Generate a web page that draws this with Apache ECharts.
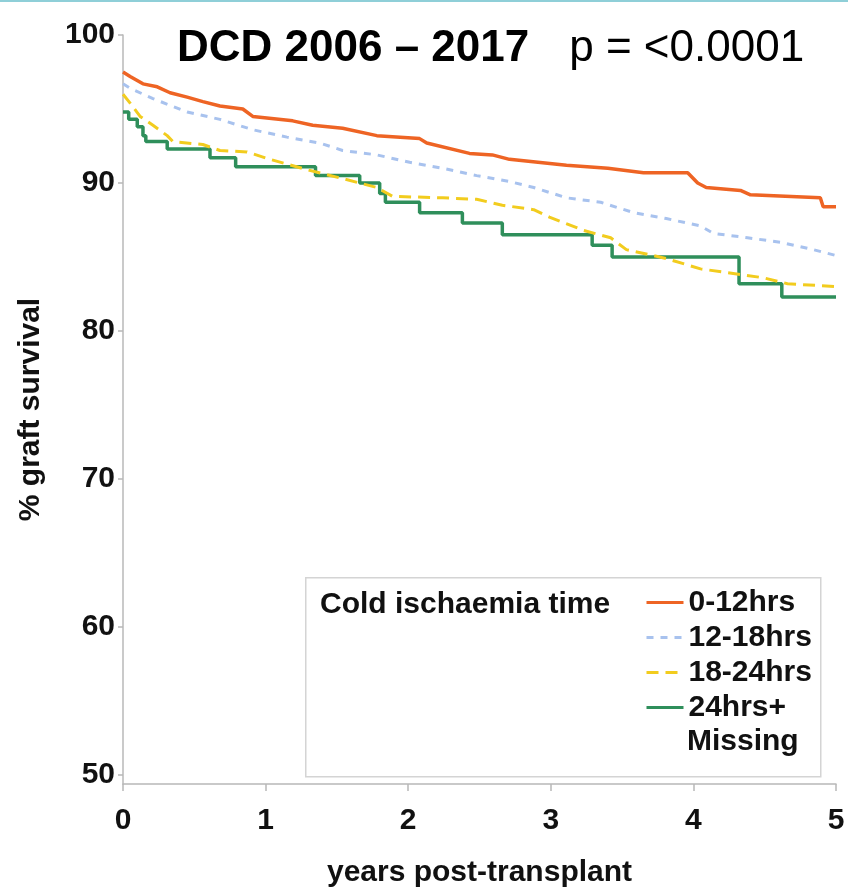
<!DOCTYPE html>
<html><head><meta charset="utf-8">
<script src="https://cdn.jsdelivr.net/npm/echarts@6/dist/echarts.min.js"></script>
<style>html,body{margin:0;padding:0;background:#fff}#c{width:848px;height:890px}</style>
</head><body><div id="c"></div>
<script>
const FONT = "'Liberation Sans', Arial, Helvetica, sans-serif";

// Series names (legend order)
const seriesNames = ['0-12hrs', '12-18hrs', '18-24hrs', '24hrs+'];
const legendExtraLine = 'Missing';
const legendTitle = 'Cold ischaemia time';

// Axis ticks
const xTicks = [0, 1, 2, 3, 4, 5];
const yTicks = [50, 60, 70, 80, 90, 100];

// 0-12hrs
const years0_12 = [0, 0.05, 0.14, 0.24, 0.33, 0.45, 0.56, 0.68, 0.84, 0.91, 1.19, 1.33, 1.54, 1.78, 2.08, 2.13, 2.43, 2.59, 2.71, 3.11, 3.40, 3.65, 3.96, 4.03, 4.09, 4.33, 4.40, 4.89, 4.91, 5.0];
const surv0_12  = [97.5, 97.2, 96.7, 96.5, 96.1, 95.8, 95.5, 95.2, 95.0, 94.5, 94.2, 93.9, 93.7, 93.2, 93.0, 92.7, 92.0, 91.9, 91.6, 91.2, 91.0, 90.7, 90.7, 90.0, 89.7, 89.5, 89.2, 89.0, 88.4, 88.4];

// 12-18hrs
const years12_18 = [0, 0.05, 0.21, 0.45, 0.68, 0.91, 1.15, 1.38, 1.54, 1.78, 2.01, 2.24, 2.48, 2.71, 2.88, 3.11, 3.35, 3.58, 3.81, 4.05, 4.14, 4.38, 4.61, 4.84, 5.0];
const surv12_18  = [96.7, 96.4, 95.7, 94.8, 94.3, 93.6, 93.1, 92.7, 92.2, 91.9, 91.4, 91.0, 90.5, 90.1, 89.7, 89.0, 88.7, 88.0, 87.6, 87.1, 86.6, 86.3, 86.0, 85.5, 85.1];

// 18-24hrs
const years18_24 = [0, 0.05, 0.12, 0.21, 0.31, 0.35, 0.56, 0.68, 0.87, 1.03, 1.29, 1.54, 1.78, 1.89, 2.24, 2.48, 2.66, 2.88, 2.99, 3.23, 3.42, 3.53, 3.81, 4.05, 4.49, 4.66, 5.0];
const surv18_24  = [96.0, 95.4, 94.5, 93.9, 93.2, 92.8, 92.6, 92.2, 92.1, 91.6, 90.9, 90.3, 89.7, 89.1, 89.0, 88.9, 88.5, 88.2, 87.7, 86.8, 86.3, 85.5, 84.9, 84.2, 83.6, 83.2, 83.0];

// 24hrs+ / Missing (step)
const years24 = [0, 0.04, 0.10, 0.14, 0.16, 0.31, 0.61, 0.79, 1.35, 1.66, 1.80, 1.84, 2.08, 2.38, 2.66, 3.29, 3.43, 4.32, 4.62, 5.0];
const surv24  = [94.8, 94.3, 93.8, 93.2, 92.8, 92.3, 91.7, 91.1, 90.5, 90.0, 89.3, 88.7, 88.0, 87.3, 86.5, 85.8, 85.0, 83.2, 82.3, 82.3];

const zip = (xs, ys) => xs.map((x, i) => [x, ys[i]]);
const AX = '#b8b8b8';
const boldText = (size) => ({ fontFamily: FONT, fontWeight: 'bold', fontSize: size, color: '#111' });

const chart = echarts.init(document.getElementById('c'), null, { renderer: 'canvas' });
chart.setOption({
  backgroundColor: '#fff',
  animation: false,
  title: [
    {
      left: 172, top: 22,
      text: '{b|DCD 2006 – 2017}{r|p = <0.0001}',
      textStyle: {
        fontWeight: 'normal',
        rich: {
          b: { fontFamily: FONT, fontWeight: 'bold', fontSize: 44, color: '#000', padding: [0, 40, 0, 0] },
          r: { fontFamily: FONT, fontWeight: 'normal', fontSize: 44, color: '#000' }
        }
      }
    },
    { left: 315, top: 585, text: legendTitle, textStyle: boldText(30) }
  ],
  grid: { left: 123, right: 12, top: 35, bottom: 106, outerBoundsMode: 'none', containLabel: false },
  xAxis: {
    type: 'value', min: 0, max: 5, interval: 1,
    name: 'years post-transplant', nameLocation: 'middle', nameGap: 74,
    nameTextStyle: boldText(30),
    axisLine: { lineStyle: { color: AX, width: 1.5 } },
    axisTick: { length: 7, lineStyle: { color: AX, width: 1.5 } },
    axisLabel: Object.assign({ margin: 22 }, boldText(30)),
    splitLine: { show: false }
  },
  yAxis: {
    type: 'value', min: 49.4, max: 100,
    name: '% graft survival', nameLocation: 'middle', nameGap: 77,
    nameTextStyle: boldText(30),
    axisLine: { show: true, lineStyle: { color: AX, width: 1.5 } },
    axisTick: { show: true, length: 5, customValues: yTicks, lineStyle: { color: AX, width: 1.5 } },
    axisLabel: Object.assign({ margin: 8, customValues: yTicks }, boldText(30)),
    splitLine: { show: false }
  },
  legend: {
    orient: 'vertical', left: 640, top: 580,
    data: seriesNames,
    itemWidth: 37, itemHeight: 8, itemGap: 0,
    itemStyle: { opacity: 0 },
    lineStyle: { width: 3 },
    textStyle: Object.assign({ lineHeight: 35 }, boldText(30)),
    selectedMode: false
  },
  graphic: [
    { type: 'rect', left: 0, top: 0, shape: { width: 848, height: 2 }, style: { fill: '#8fcfd8' }, z: 100 },
    { type: 'rect', left: 305, top: 577, shape: { width: 515, height: 199 }, style: { fill: 'rgba(0,0,0,0)', stroke: '#d4d4d4', lineWidth: 1.5 }, z: 1 },
    { type: 'text', left: 687, top: 727, style: { text: legendExtraLine, font: 'bold 30px ' + FONT, fill: '#111' }, z: 100 }
  ],
  series: [
    {
      name: seriesNames[3], type: 'line', step: 'end', symbol: 'none', z: 2,
      data: zip(years24, surv24),
      lineStyle: { color: '#2f8f5b', width: 3.5 }, itemStyle: { color: '#2f8f5b' }
    },
    {
      name: seriesNames[2], type: 'line', symbol: 'none', z: 3,
      data: zip(years18_24, surv18_24),
      lineStyle: { color: '#f2cc1e', width: 3, type: [12, 7] }, itemStyle: { color: '#f2cc1e' }
    },
    {
      name: seriesNames[1], type: 'line', symbol: 'none', z: 4,
      data: zip(years12_18, surv12_18),
      lineStyle: { color: '#a8c2ee', width: 3, type: [7, 7] }, itemStyle: { color: '#a8c2ee' }
    },
    {
      name: seriesNames[0], type: 'line', symbol: 'none', z: 5,
      data: zip(years0_12, surv0_12),
      lineStyle: { color: '#ee6424', width: 3.5 }, itemStyle: { color: '#ee6424' }
    }
  ]
});
</script>
</body></html>
